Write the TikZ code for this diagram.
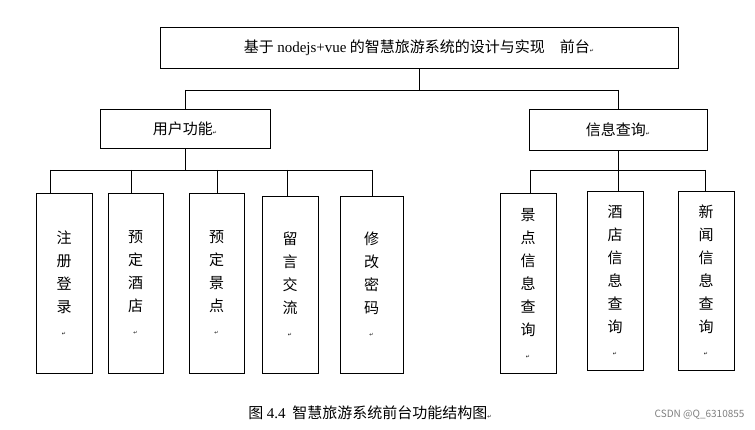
\documentclass[tikz,border=0pt]{standalone}
\usepackage{fontspec}
\setmainfont{Liberation Serif}
\newfontfamily\cjk{Noto Sans CJK SC}
\newfontfamily\dv{DejaVu Sans}
\newcommand{\rt}{{\dv\tiny ↵}}
\begin{document}
\begin{tikzpicture}[x=1pt,y=-1pt,
  bx/.style={draw,line width=0.6pt,inner sep=0pt,font=\cjk\fontsize{15}{23}\selectfont},
  vb/.style={bx,align=center},
  ln/.style={line width=0.6pt}]
\useasboundingbox[fill=white] (0,0) rectangle (755,430);
\node[bx,minimum width=518,minimum height=41] (top) at (419,48) {基于 {\rmfamily nodejs+vue} 的智慧旅游系统的设计与实现\quad 前台\rt};
\node[bx,minimum width=170,minimum height=39] (user) at (185,129) {用户功能\rt};
\node[bx,minimum width=178,minimum height=41] (info) at (618,130) {信息查询\rt};
\foreach \n/\x/\ya/\yb/\w/\t in {a/64/193/373/56/注\\册\\登\\录,b/135.5/193/373/55/预\\定\\酒\\店,c/216.5/193/373/55/预\\定\\景\\点,d/290/196/373/56/留\\言\\交\\流,e/371.5/196/373/63/修\\改\\密\\码,f/528/193/373/56/景\\点\\信\\息\\查\\询,g/615/191/370/56/酒\\店\\信\\息\\查\\询,h/706/191/370/56/新\\闻\\信\\息\\查\\询}{
  \node[vb,minimum width=\w,minimum height=\yb-\ya] (\n) at (\x,{(\ya+\yb)/2}) {\t\\\rt};
}
\coordinate (j1) at (top.south|-0,90);
\draw[ln] (top.south) -- (j1);
\draw[ln] (user.north|-0,90) -- (info.north|-0,90);
\draw[ln] (user.north|-0,90) -- (user.north);
\draw[ln] (info.north|-0,90) -- (info.north);
\draw[ln] (user.south) -- (185,170);
\draw[ln] (50,170) -- (372,170);
\foreach \n/\x in {a/50,b/131,c/217,d/287,e/372}{\draw[ln] (\x,170) -- (\x,0|-\n.north);}
\draw[ln] (info.south) -- (618,170);
\draw[ln] (530,170) -- (705,170);
\foreach \n/\x in {f/530,g/618,h/705}{\draw[ln] (\x,170) -- (\x,0|-\n.north);}
\node[font=\cjk\fontsize{15}{17}\selectfont] (cap) at (370,413) {图 {\rmfamily 4.4}\ \ 智慧旅游系统前台功能结构图\rt};
\node[font=\cjk\fontsize{10}{12}\selectfont,text=gray,anchor=east] (wm) at (748,415) {CSDN @Q\_6310855};
\end{tikzpicture}
\end{document}
